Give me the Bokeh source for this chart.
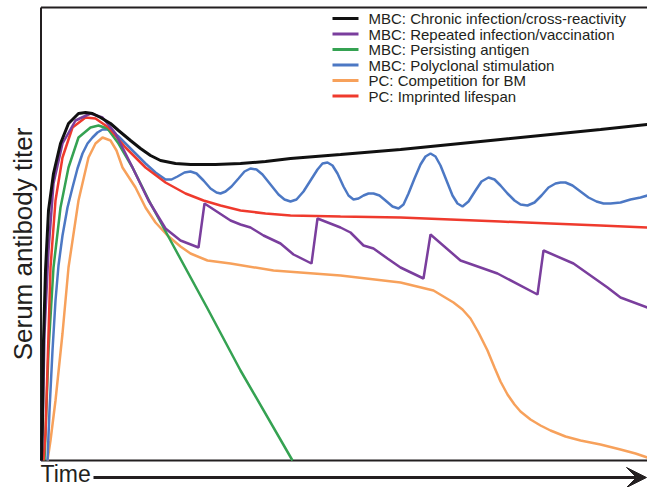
from bokeh.plotting import figure
from bokeh.models import Range1d, Label, Arrow, VeeHead, FixedTicker
from bokeh.core.properties import value
from bokeh.embed import file_html
from bokeh.resources import INLINE

# ---- data (x = time position, y = titer) ----
black_x = [41, 42, 43, 45, 48, 53, 60, 68, 78, 85, 92, 100, 110, 118, 130, 140, 150, 160, 175, 190, 215, 240, 265, 290, 340, 400, 450, 500, 550, 600, 647]
black_py = [460, 420, 340, 270, 210, 173, 143, 123, 113, 112, 113, 117, 123, 130, 140, 148, 155, 160, 163, 164, 164, 163, 161, 158, 154, 149, 144, 139, 134, 129, 124]

purple_x = [41, 42, 44, 48, 53, 62, 75, 90, 102, 115, 132, 148, 165, 180, 198, 204, 230, 240, 250, 263, 280, 293, 311, 317, 340, 350, 363, 373, 387, 400, 423, 430, 460, 480, 497, 537, 543, 573, 607, 620, 647]
purple_py = [460, 433, 333, 250, 183, 143, 120, 113, 117, 133, 167, 200, 228, 240, 247, 203, 220, 224, 227, 235, 243, 254, 263, 218, 227, 232, 245, 248, 258, 267, 278, 234, 260, 267, 273, 294, 250, 263, 287, 297, 307]

green_x = [44, 45, 48, 53, 60, 68, 78, 90, 98, 107, 118, 132, 145, 150, 170, 207, 240, 292]
green_py = [460, 433, 350, 267, 207, 167, 137, 127, 125, 128, 143, 167, 193, 203, 240, 308, 370, 460]

blue_x = [47, 49, 52, 55, 58, 62, 67, 72, 77, 82, 87, 92, 97, 102, 107, 112, 118, 125, 135, 145, 155, 165, 171, 177, 184, 190, 196, 203, 210, 216, 220, 225, 231, 238, 244, 250, 256, 262, 270, 278, 284, 290, 296, 303, 310, 317, 322, 327, 332, 337, 343, 348, 353, 358, 363, 368, 373, 379, 385, 392, 398, 403, 408, 414, 420, 425, 430, 435, 440, 446, 452, 457, 462, 468, 475, 481, 488, 494, 500, 507, 514, 520, 527, 534, 541, 548, 555, 560, 565, 572, 580, 588, 596, 603, 610, 620, 630, 640, 647]
blue_py = [460, 410, 350, 300, 265, 235, 207, 187, 168, 153, 143, 137, 132, 129, 129, 131, 136, 143, 153, 163, 172, 179, 179, 176, 172, 171, 173, 180, 188, 192, 193, 191, 186, 178, 171, 168, 169, 174, 184, 194, 199, 201, 199, 191, 180, 169, 163, 162, 165, 173, 186, 195, 199, 198, 195, 193, 193, 195, 200, 206, 208, 204, 193, 178, 164, 156, 153, 156, 165, 180, 195, 203, 206, 201, 190, 181, 177, 179, 185, 193, 200, 204, 205, 202, 195, 187, 183, 182, 182, 185, 191, 197, 201, 203, 203, 202, 199, 197, 195]

orange_x = [47, 50, 55, 62, 68, 78, 88, 95, 102, 110, 116, 122, 135, 145, 155, 167, 180, 190, 207, 230, 273, 340, 400, 433, 453, 462, 470, 478, 487, 494, 500, 507, 514, 520, 530, 540, 550, 565, 580, 600, 620, 635, 647]
orange_py = [460, 440, 400, 333, 267, 200, 157, 143, 137, 140, 150, 167, 187, 207, 222, 235, 246, 253, 260, 263, 270, 275, 282, 290, 302, 309, 318, 332, 350, 367, 381, 394, 404, 411, 419, 425, 430, 436, 440, 444, 449, 453, 457]

red_x = [43, 45, 47, 50, 55, 62, 72, 85, 95, 108, 125, 145, 165, 185, 203, 220, 240, 265, 290, 340, 400, 450, 500, 550, 600, 647]
red_py = [460, 433, 367, 267, 200, 157, 127, 117, 118, 127, 147, 167, 182, 193, 200, 205, 210, 213, 215, 216, 217, 219, 221, 223, 225, 227]

labels = [
    "MBC: Chronic infection/cross-reactivity",
    "MBC: Repeated infection/vaccination",
    "MBC: Persisting antigen",
    "MBC: Polyclonal stimulation",
    "PC: Competition for BM",
    "PC: Imprinted lifespan",
]
colors = ["#111111", "#7a3e9d", "#35a252", "#4c78c4", "#f7a15b", "#ef3a2d"]

BASE = 460  # picture row of zero titer
def titer(py):
    return [BASE - v for v in py]

FONT = "Liberation Sans"
TXT = "#231f20"

p = figure(width=647, height=487, x_range=Range1d(39, 647), y_range=Range1d(-27, 460),
           output_backend="svg", toolbar_location=None,
           min_border_left=39, min_border_right=0, min_border_top=0, min_border_bottom=0,
           x_axis_location=None)
p.outline_line_color = None
p.grid.visible = False
p.background_fill_color = "white"
p.border_fill_color = "white"

ya = p.yaxis[0]
ya.ticker = FixedTicker(ticks=[])
ya.axis_line_color = None
ya.major_tick_line_color = None
ya.minor_tick_line_color = None
ya.major_label_text_font_size = "0px"
ya.axis_label = "Serum antibody titer"
ya.axis_label_text_font = FONT
ya.axis_label_text_font_size = "26px"
ya.axis_label_text_font_style = "normal"
ya.axis_label_text_color = TXT
ya.axis_label_standoff = 2

# frame lines (left, bottom, top)
p.segment(x0=[40.5, 40.5, 40.5], y0=[0, 0, 453], x1=[40.5, 647, 647], y1=[453, 0, 453],
          line_color="#231f20", line_width=2)

r_orange = p.line(orange_x, titer(orange_py), line_color=colors[4], line_width=2.5)
r_blue = p.line(blue_x, titer(blue_py), line_color=colors[3], line_width=2.5)
r_green = p.line(green_x, titer(green_py), line_color=colors[2], line_width=2.5)
r_red = p.line(red_x, titer(red_py), line_color=colors[5], line_width=2.5)
r_purple = p.line(purple_x, titer(purple_py), line_color=colors[1], line_width=2.5)
r_black = p.line(black_x, titer(black_py), line_color=colors[0], line_width=3)

# legend (drawn as glyphs for exact row spacing)
leg_top, leg_step = BASE - 18, 15.5
leg_y = [leg_top - i * leg_step for i in range(len(labels))]
p.segment(x0=[332] * len(labels), y0=leg_y, x1=[358] * len(labels), y1=leg_y,
          line_color=colors, line_width=3)
p.text(x=[368] * len(labels), y=leg_y, text=labels, text_font=value(FONT),
       text_font_size="15px", text_color=TXT, text_baseline="middle", text_align="left")

p.add_layout(Label(x=40, y=-13, text="Time", text_font=FONT, text_font_size="23px",
                   text_color=TXT, text_baseline="middle", text_align="left"))
p.add_layout(Arrow(end=VeeHead(size=20, fill_color="#231f20", line_color="#231f20"),
                   x_start=93, y_start=-17, x_end=646, y_end=-17,
                   line_color="#231f20", line_width=3))

open("out.html", "w").write(file_html(p, INLINE))
